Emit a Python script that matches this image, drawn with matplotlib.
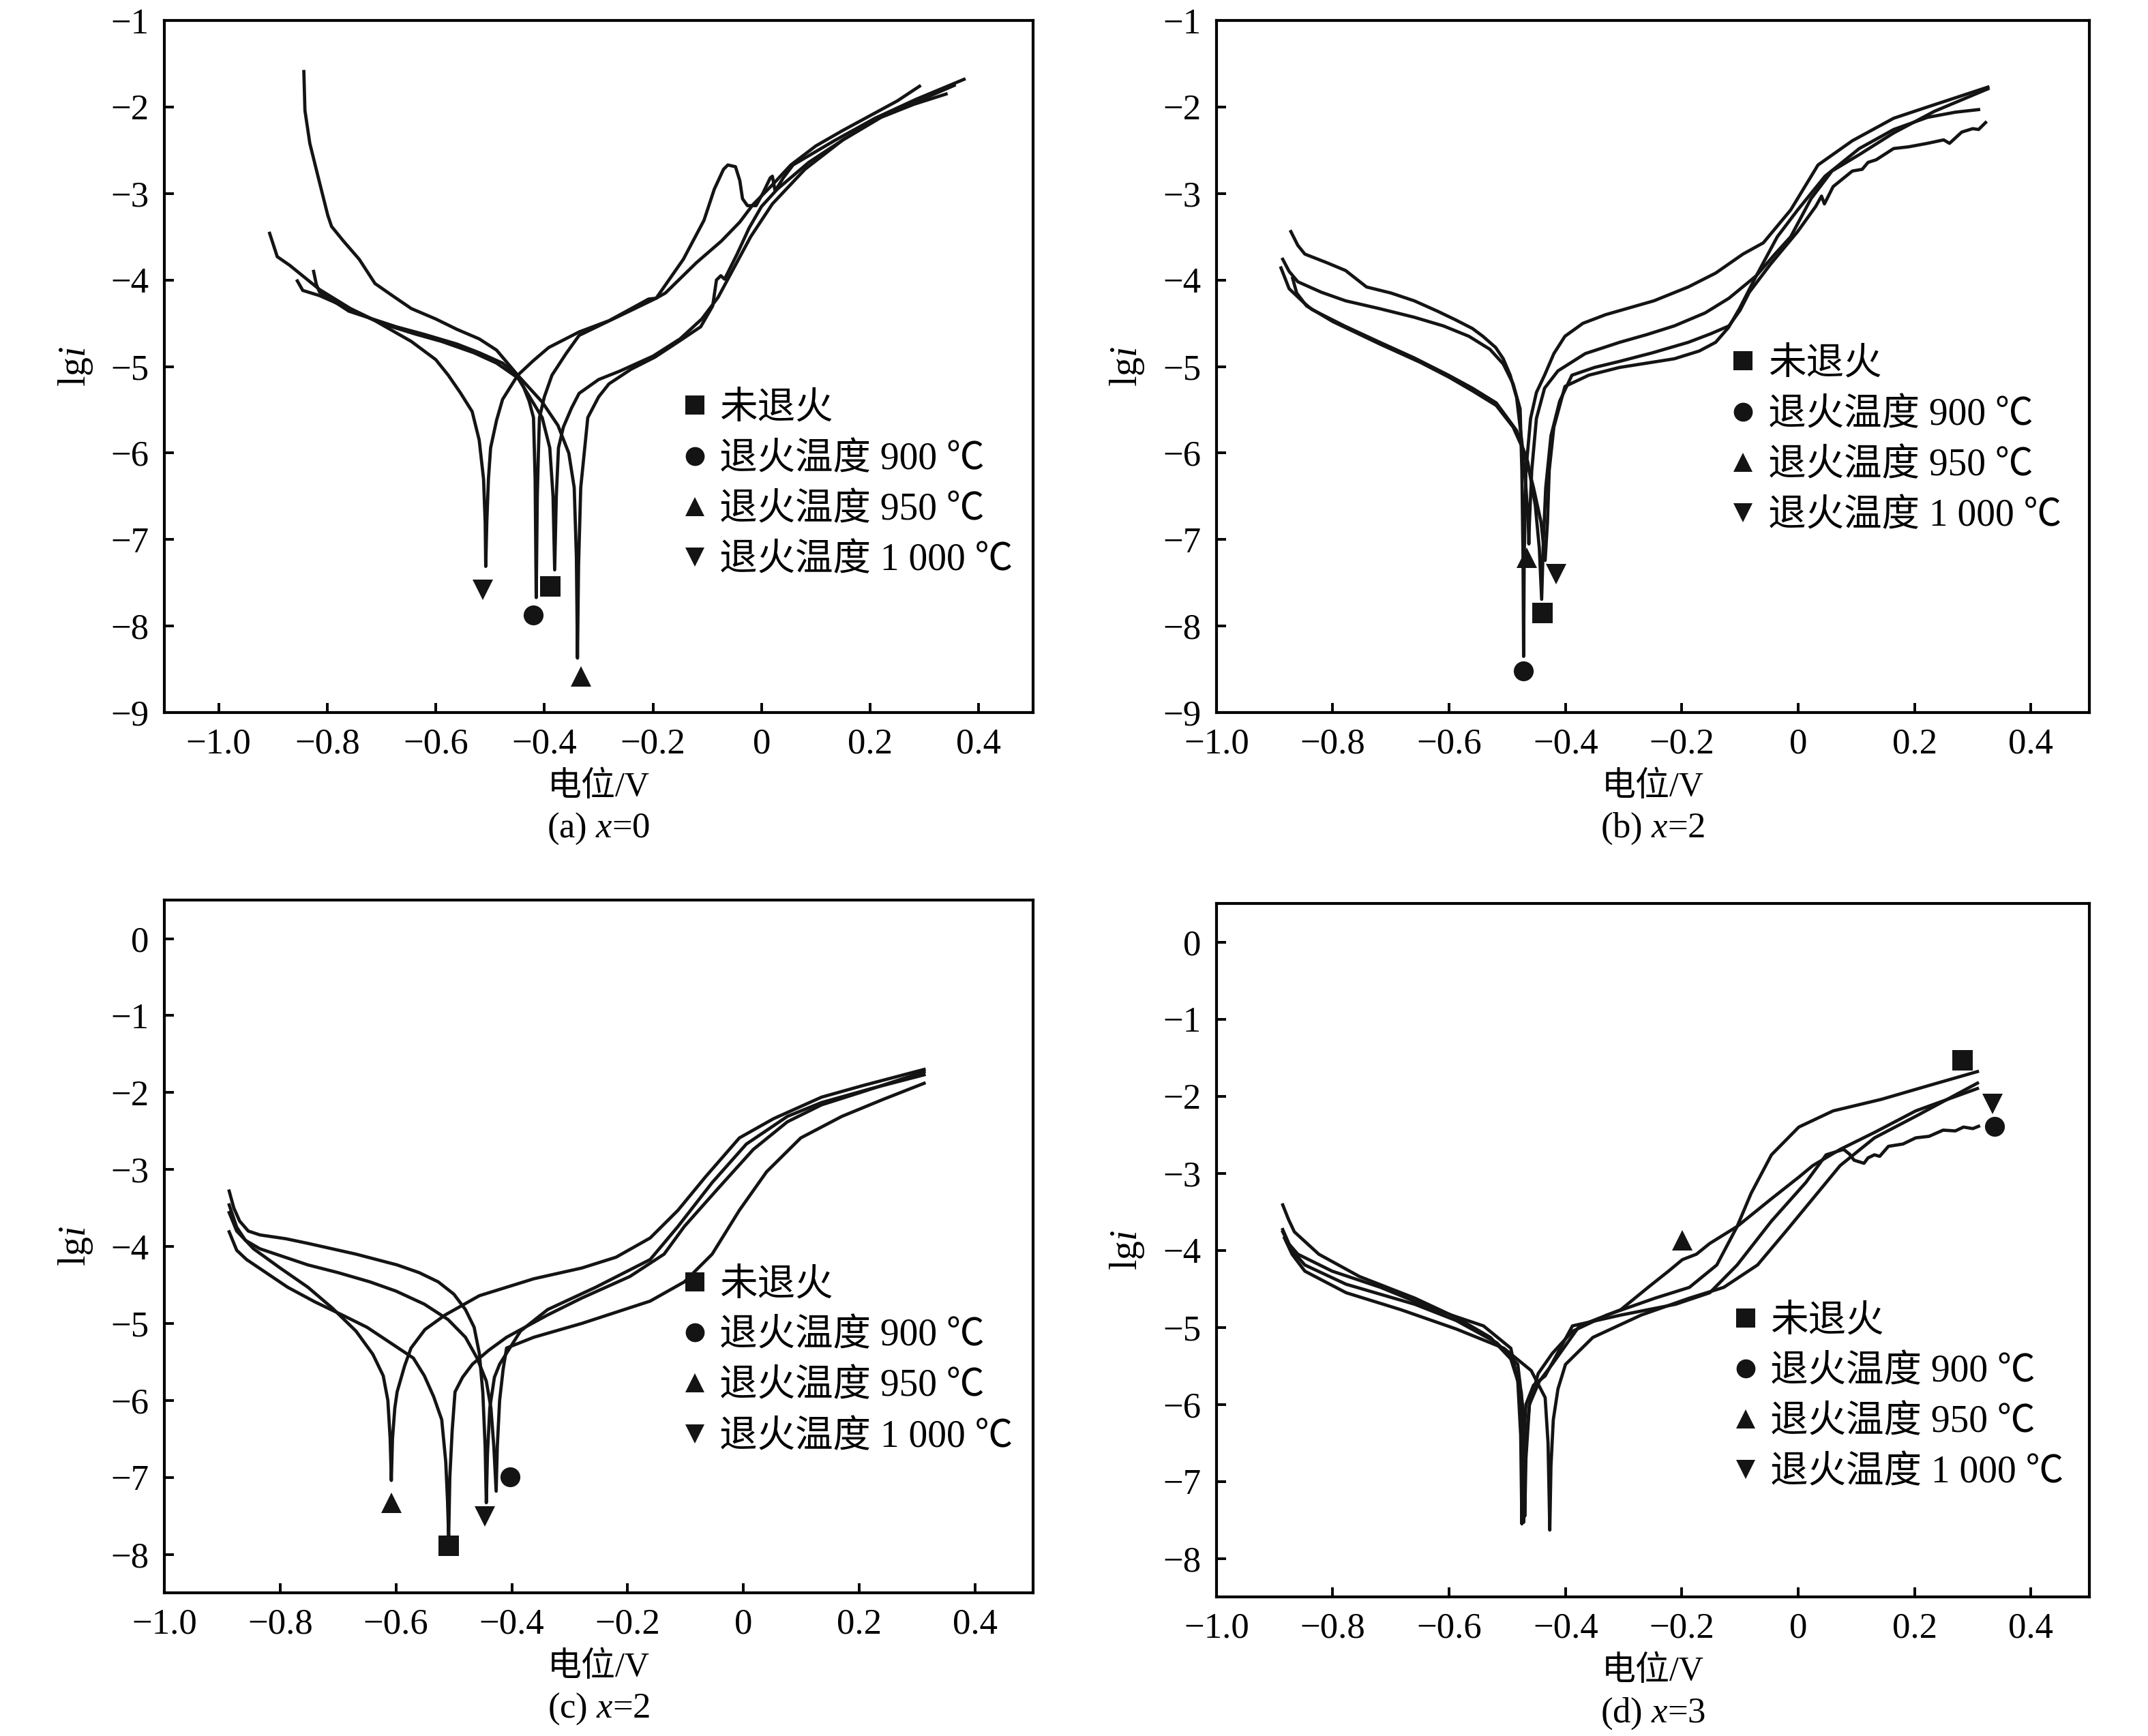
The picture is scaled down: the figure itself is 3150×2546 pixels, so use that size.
import matplotlib
matplotlib.use('Agg')
import matplotlib.pyplot as plt
from matplotlib.lines import Line2D

plt.rcParams['font.family'] = ['Liberation Serif', 'Noto Sans CJK SC']
plt.rcParams['mathtext.fontset'] = 'custom'
plt.rcParams['mathtext.rm'] = 'Liberation Serif'
plt.rcParams['mathtext.it'] = 'Liberation Serif:italic'
plt.rcParams['axes.unicode_minus'] = True

# series order everywhere: 未退火, 900, 950, 1000
series_labels = ['未退火', '退火温度 900 ℃', '退火温度 950 ℃', '退火温度 1 000 ℃']
series_markers = ['s', 'o', '^', 'v']

x_ticks = [-1.0, -0.8, -0.6, -0.4, -0.2, 0.0, 0.2, 0.4]
x_tick_labels = ['−1.0', '−0.8', '−0.6', '−0.4', '−0.2', '0', '0.2', '0.4']
y_ticks_top = [-1, -2, -3, -4, -5, -6, -7, -8, -9]
y_ticks_bottom = [0, -1, -2, -3, -4, -5, -6, -7, -8]
captions = ['(a) $x$=0', '(b) $x$=2', '(c) $x$=2', '(d) $x$=3']

# ---------------- (a) x=0 ----------------
a_none_v = [-0.906, -0.892, -0.869, -0.814, -0.757, -0.701, -0.640, -0.589, -0.530, -0.488, -0.449, -0.431, -0.404,
            -0.390, -0.384, -0.381, -0.378, -0.374, -0.365, -0.350, -0.336, -0.300, -0.260, -0.200, -0.150, -0.110,
            -0.080, -0.050, -0.020, 0.020, 0.080, 0.150, 0.230, 0.300, 0.355]
a_none_lg = [-3.46, -3.73, -3.83, -4.11, -4.33, -4.50, -4.62, -4.71, -4.84, -4.96, -5.13, -5.31, -5.59,
             -5.94, -6.50, -7.35, -6.50, -5.94, -5.70, -5.48, -5.31, -5.15, -5.05, -4.88, -4.68, -4.45,
             -4.20, -3.85, -3.50, -3.12, -2.72, -2.38, -2.08, -1.90, -1.75]
a_900_v = [-0.825, -0.820, -0.814, -0.760, -0.673, -0.620, -0.561, -0.520, -0.477, -0.450, -0.438, -0.428, -0.420,
           -0.417, -0.415, -0.413, -0.411, -0.409, -0.400, -0.386, -0.360, -0.336, -0.290, -0.240, -0.194, -0.177,
           -0.120, -0.074, -0.040, -0.016, 0.020, 0.054, 0.100, 0.150, 0.200, 0.250, 0.291]
a_900_lg = [-3.90, -4.05, -4.14, -4.36, -4.54, -4.63, -4.74, -4.84, -4.96, -5.10, -5.24, -5.40, -5.59,
            -6.30, -7.67, -6.50, -6.00, -5.59, -5.35, -5.10, -4.85, -4.64, -4.50, -4.35, -4.21, -4.15,
            -3.80, -3.55, -3.33, -3.13, -2.90, -2.67, -2.45, -2.27, -2.10, -1.93, -1.76]
a_950_v = [-0.843, -0.841, -0.832, -0.817, -0.799, -0.792, -0.770, -0.741, -0.712, -0.680, -0.645, -0.600, -0.561,
           -0.520, -0.488, -0.449, -0.404, -0.375, -0.355, -0.345, -0.341, -0.339, -0.337, -0.333, -0.320, -0.300,
           -0.281, -0.240, -0.196, -0.150, -0.112, -0.090, -0.083, -0.075, -0.068, -0.045, -0.023, 0.000, 0.029,
           0.087, 0.150, 0.220, 0.280, 0.340]
a_950_lg = [-1.59, -2.04, -2.42, -2.80, -3.25, -3.38, -3.55, -3.76, -4.04, -4.18, -4.33, -4.45, -4.57,
            -4.68, -4.81, -5.10, -5.41, -5.68, -6.00, -6.40, -7.20, -8.37, -7.30, -6.40, -5.59, -5.35,
            -5.20, -5.03, -4.89, -4.70, -4.54, -4.30, -4.00, -3.95, -3.99, -3.70, -3.40, -3.15, -2.95,
            -2.64, -2.38, -2.12, -1.97, -1.85]
a_1000_v = [-0.855, -0.845, -0.814, -0.760, -0.712, -0.645, -0.600, -0.577, -0.555, -0.533, -0.520, -0.512, -0.509,
            -0.508, -0.506, -0.503, -0.499, -0.488, -0.477, -0.449, -0.420, -0.392, -0.336, -0.281, -0.240, -0.208,
            -0.194, -0.144, -0.106, -0.087, -0.070, -0.062, -0.048, -0.040, -0.035, -0.026, -0.010, 0.003, 0.016,
            0.020, 0.025, 0.040, 0.058, 0.134, 0.209, 0.285, 0.373]
a_1000_lg = [-4.01, -4.12, -4.18, -4.33, -4.47, -4.71, -4.92, -5.10, -5.30, -5.52, -5.85, -6.30, -6.80,
             -7.31, -6.80, -6.30, -5.94, -5.62, -5.38, -5.10, -4.93, -4.78, -4.60, -4.47, -4.33, -4.22,
             -4.21, -3.76, -3.31, -2.95, -2.72, -2.67, -2.69, -2.85, -3.06, -3.14, -3.14, -2.99, -2.82,
             -2.80, -2.97, -2.82, -2.67, -2.39, -2.13, -1.91, -1.68]
a_mark_v = [-0.389, -0.421, -0.333, -0.513]
a_mark_lg = [-7.54, -7.87, -8.58, -7.58]

# ---------------- (b) x=2 ----------------
b_none_v = [-0.889, -0.875, -0.850, -0.836, -0.780, -0.719, -0.660, -0.601, -0.560, -0.519, -0.484, -0.465, -0.452,
            -0.445, -0.441, -0.438, -0.434, -0.425, -0.410, -0.389, -0.350, -0.307, -0.250, -0.189, -0.150, -0.119,
            -0.100, -0.084, -0.048, -0.001, 0.030, 0.040, 0.045, 0.060, 0.093, 0.110, 0.120, 0.134, 0.164, 0.190,
            0.222, 0.250, 0.260, 0.281, 0.300, 0.310, 0.322]
b_none_lg = [-3.86, -4.10, -4.26, -4.34, -4.53, -4.72, -4.90, -5.10, -5.25, -5.42, -5.74, -6.10, -6.60,
             -7.10, -7.69, -7.00, -6.40, -5.80, -5.40, -5.10, -5.01, -4.94, -4.84, -4.72, -4.62, -4.53,
             -4.35, -4.14, -3.82, -3.44, -3.15, -3.03, -3.12, -2.92, -2.74, -2.72, -2.64, -2.61, -2.48, -2.46,
             -2.42, -2.38, -2.42, -2.29, -2.25, -2.26, -2.18]
b_900_v = [-0.886, -0.875, -0.860, -0.820, -0.778, -0.720, -0.660, -0.610, -0.566, -0.530, -0.507, -0.490, -0.478,
           -0.475, -0.473, -0.472, -0.471, -0.468, -0.460, -0.450, -0.436, -0.420, -0.401, -0.370, -0.331, -0.248,
           -0.189, -0.142, -0.095, -0.060, -0.013, 0.034, 0.093, 0.164, 0.222, 0.326]
b_900_lg = [-3.76, -3.90, -4.02, -4.14, -4.24, -4.33, -4.43, -4.53, -4.65, -4.80, -4.97, -5.20, -5.49,
            -6.20, -7.20, -8.35, -7.20, -6.20, -5.60, -5.30, -5.10, -4.85, -4.65, -4.50, -4.40, -4.24,
            -4.08, -3.92, -3.70, -3.57, -3.19, -2.67, -2.39, -2.13, -2.00, -1.77]
b_950_v = [-0.872, -0.860, -0.848, -0.810, -0.778, -0.742, -0.700, -0.660, -0.620, -0.589, -0.560, -0.542, -0.520,
           -0.507, -0.495, -0.484, -0.475, -0.468, -0.464, -0.463, -0.462, -0.458, -0.450, -0.436, -0.413, -0.366,
           -0.307, -0.260, -0.213, -0.160, -0.119, -0.072, -0.036, -0.001, 0.046, 0.105, 0.164, 0.222, 0.270, 0.310]
b_950_lg = [-3.44, -3.60, -3.70, -3.80, -3.89, -4.08, -4.15, -4.24, -4.36, -4.46, -4.56, -4.65, -4.78,
            -4.91, -5.10, -5.36, -5.87, -6.40, -6.80, -7.05, -6.80, -6.20, -5.60, -5.25, -5.05, -4.85,
            -4.72, -4.63, -4.53, -4.38, -4.21, -3.95, -3.50, -3.19, -2.80, -2.48, -2.26, -2.12, -2.06, -2.03]
b_1000_v = [-0.869, -0.862, -0.845, -0.800, -0.719, -0.650, -0.601, -0.560, -0.519, -0.490, -0.470, -0.455, -0.442,
            -0.435, -0.431, -0.428, -0.420, -0.401, -0.360, -0.307, -0.260, -0.213, -0.170, -0.142, -0.120, -0.101,
            -0.072, -0.040, -0.013, 0.022, 0.058, 0.105, 0.164, 0.234, 0.280, 0.326]
b_1000_lg = [-3.98, -4.15, -4.30, -4.48, -4.74, -4.95, -5.12, -5.28, -5.45, -5.70, -6.00, -6.40, -6.80,
             -7.24, -6.80, -6.20, -5.70, -5.23, -5.10, -5.01, -4.96, -4.91, -4.82, -4.72, -4.55, -4.33,
             -3.95, -3.70, -3.50, -3.06, -2.74, -2.55, -2.30, -2.05, -1.92, -1.79]
b_mark_v = [-0.440, -0.472, -0.466, -0.416]
b_mark_lg = [-7.85, -8.52, -7.21, -7.40]

# ---------------- (c) x=2 ----------------
c_none_v = [-0.888, -0.875, -0.858, -0.787, -0.740, -0.693, -0.650, -0.610, -0.570, -0.551, -0.535, -0.521, -0.514,
            -0.511, -0.509, -0.507, -0.503, -0.498, -0.485, -0.468, -0.440, -0.409, -0.338, -0.279, -0.196, -0.137,
            -0.102, -0.043, 0.017, 0.076, 0.135, 0.206, 0.312]
c_none_lg = [-3.81, -4.05, -4.17, -4.53, -4.72, -4.89, -5.05, -5.25, -5.45, -5.68, -5.95, -6.25, -6.80,
             -7.30, -7.79, -7.00, -6.40, -5.89, -5.70, -5.53, -5.35, -5.18, -4.89, -4.67, -4.39, -4.10,
             -3.74, -3.24, -2.74, -2.38, -2.16, -1.99, -1.73]
c_900_v = [-0.888, -0.875, -0.860, -0.835, -0.752, -0.700, -0.645, -0.600, -0.551, -0.510, -0.480, -0.460, -0.444,
           -0.436, -0.431, -0.427, -0.425, -0.421, -0.415, -0.409, -0.362, -0.279, -0.161, -0.102, -0.054, -0.007,
           0.040, 0.099, 0.170, 0.241, 0.312]
c_900_lg = [-3.46, -3.75, -3.92, -4.03, -4.24, -4.34, -4.46, -4.58, -4.75, -4.95, -5.18, -5.45, -5.75,
            -6.10, -6.60, -7.18, -6.60, -6.00, -5.60, -5.32, -5.18, -5.00, -4.71, -4.46, -4.10, -3.53,
            -3.03, -2.59, -2.31, -2.09, -1.88]
c_950_v = [-0.888, -0.875, -0.846, -0.800, -0.752, -0.710, -0.669, -0.640, -0.622, -0.614, -0.610, -0.608, -0.606,
           -0.602, -0.598, -0.585, -0.574, -0.550, -0.515, -0.456, -0.362, -0.279, -0.220, -0.161, -0.113, -0.066,
           -0.007, 0.052, 0.135, 0.206, 0.312]
c_950_lg = [-3.56, -3.80, -4.03, -4.28, -4.53, -4.80, -5.10, -5.40, -5.68, -6.00, -6.50, -7.04, -6.50,
            -6.10, -5.89, -5.55, -5.32, -5.08, -4.89, -4.64, -4.42, -4.28, -4.14, -3.89, -3.53, -3.10,
            -2.59, -2.34, -2.06, -1.91, -1.70]
c_1000_v = [-0.888, -0.880, -0.870, -0.855, -0.835, -0.790, -0.752, -0.669, -0.598, -0.560, -0.527, -0.500, -0.480,
            -0.465, -0.456, -0.450, -0.446, -0.444, -0.442, -0.438, -0.430, -0.421, -0.385, -0.338, -0.255, -0.161,
            -0.113, -0.054, 0.005, 0.076, 0.135, 0.220, 0.312]
c_1000_lg = [-3.28, -3.50, -3.67, -3.80, -3.85, -3.90, -3.96, -4.10, -4.24, -4.34, -4.46, -4.62, -4.82,
             -5.05, -5.39, -5.90, -6.60, -7.33, -6.70, -6.10, -5.70, -5.53, -5.10, -4.82, -4.53, -4.17,
             -3.74, -3.17, -2.67, -2.31, -2.13, -1.95, -1.77]
c_mark_v = [-0.509, -0.403, -0.608, -0.447]
c_mark_lg = [-7.89, -6.99, -7.33, -7.51]

# ---------------- (d) x=3 ----------------
d_none_v = [-0.886, -0.876, -0.866, -0.824, -0.754, -0.659, -0.588, -0.529, -0.494, -0.476, -0.473, -0.472, -0.469,
            -0.462, -0.447, -0.423, -0.388, -0.329, -0.246, -0.187, -0.140, -0.105, -0.081, -0.046, 0.001, 0.060,
            0.143, 0.225, 0.308]
d_none_lg = [-3.41, -3.60, -3.76, -4.05, -4.34, -4.62, -4.87, -5.13, -5.41, -5.84, -6.50, -7.53, -6.60,
             -6.00, -5.60, -5.34, -5.05, -4.84, -4.62, -4.48, -4.19, -3.69, -3.26, -2.76, -2.40, -2.19,
             -2.04, -1.86, -1.68]
d_900_v = [-0.886, -0.875, -0.860, -0.801, -0.718, -0.624, -0.541, -0.494, -0.482, -0.477, -0.475, -0.473, -0.468,
           -0.455, -0.435, -0.388, -0.305, -0.211, -0.152, -0.105, -0.046, 0.013, 0.048, 0.078, 0.088, 0.096,
           0.113, 0.120, 0.131, 0.140, 0.155, 0.180, 0.202, 0.225, 0.249, 0.270, 0.284, 0.300, 0.310]
d_900_lg = [-3.73, -3.92, -4.05, -4.27, -4.48, -4.77, -4.98, -5.27, -5.70, -6.40, -7.55, -6.60, -6.00,
            -5.75, -5.63, -4.98, -4.84, -4.70, -4.55, -4.19, -3.62, -3.12, -2.76, -2.69, -2.75, -2.83,
            -2.87, -2.80, -2.76, -2.78, -2.65, -2.62, -2.54, -2.52, -2.44, -2.45, -2.40, -2.42, -2.39]
d_950_v = [-0.886, -0.870, -0.848, -0.777, -0.659, -0.588, -0.518, -0.482, -0.474, -0.471, -0.470, -0.468, -0.462,
           -0.445, -0.423, -0.376, -0.305, -0.258, -0.223, -0.199, -0.175, -0.152, -0.105, -0.046, 0.001, 0.025,
           0.072, 0.131, 0.202, 0.308]
d_950_lg = [-3.76, -4.00, -4.19, -4.44, -4.70, -4.91, -5.20, -5.48, -6.00, -6.80, -7.45, -6.70, -6.00,
            -5.70, -5.48, -4.98, -4.77, -4.48, -4.27, -4.12, -4.05, -3.91, -3.69, -3.33, -3.05, -2.90,
            -2.69, -2.47, -2.19, -1.90]
d_1000_v = [-0.883, -0.870, -0.848, -0.777, -0.683, -0.588, -0.506, -0.459, -0.435, -0.430, -0.427, -0.425, -0.421,
            -0.413, -0.400, -0.353, -0.270, -0.187, -0.128, -0.070, -0.022, 0.025, 0.072, 0.131, 0.202, 0.308]
d_1000_lg = [-3.84, -4.05, -4.27, -4.55, -4.77, -5.02, -5.27, -5.56, -5.91, -6.50, -7.63, -6.80, -6.20,
             -5.80, -5.48, -5.13, -4.84, -4.62, -4.48, -4.19, -3.76, -3.33, -2.90, -2.54, -2.26, -1.83]
d_mark_v = [0.282, 0.337, -0.199, 0.334]
d_mark_lg = [-1.53, -2.39, -3.87, -2.10]

panels = [
    ([(a_none_v, a_none_lg), (a_900_v, a_900_lg), (a_950_v, a_950_lg), (a_1000_v, a_1000_lg)], a_mark_v, a_mark_lg),
    ([(b_none_v, b_none_lg), (b_900_v, b_900_lg), (b_950_v, b_950_lg), (b_1000_v, b_1000_lg)], b_mark_v, b_mark_lg),
    ([(c_none_v, c_none_lg), (c_900_v, c_900_lg), (c_950_v, c_950_lg), (c_1000_v, c_1000_lg)], c_mark_v, c_mark_lg),
    ([(d_none_v, d_none_lg), (d_900_v, d_900_lg), (d_950_v, d_950_lg), (d_1000_v, d_1000_lg)], d_mark_v, d_mark_lg),
]

# layout
axes_rects = [[0.0765, 0.5895, 0.4044, 0.3987],
              [0.5663, 0.5895, 0.4063, 0.3987],
              [0.0765, 0.0825, 0.4044, 0.3990],
              [0.5663, 0.0800, 0.4063, 0.3995]]
x_limits = [(-1.1, 0.5), (-1.0, 0.5), (-1.0, 0.5), (-1.0, 0.5)]
y_limits = [(-9, -1), (-9, -1), (-8.5, 0.5), (-8.5, 0.5)]
legend_anchor = [(0.589, 0.329), (0.582, 0.393), (0.589, 0.334), (0.585, 0.288)]

fig = plt.figure(figsize=(15.75, 12.73), dpi=200)

for k in range(4):
    ax = fig.add_axes(axes_rects[k])
    curves, mv, ml = panels[k]
    for v, lg in curves:
        ax.plot(v, lg, color='#141414', lw=1.7, solid_joinstyle='round')
    for j in range(4):
        ax.plot(mv[j], ml[j], series_markers[j], color='#141414', ms=10.5, mew=0)

    ax.set_xlim(*x_limits[k])
    ax.set_ylim(*y_limits[k])
    ax.set_xticks(x_ticks)
    ax.set_xticklabels(x_tick_labels)
    yt = y_ticks_top if k < 2 else y_ticks_bottom
    ax.set_yticks(yt)
    ax.set_yticklabels([('−%d' % -t) if t < 0 else '0' for t in yt])
    ax.tick_params(direction='in', length=5, width=1.4, labelsize=19, pad=8, top=False, right=False)
    for s in ax.spines.values():
        s.set_linewidth(1.5)

    ax.set_ylabel('lg$i$', fontsize=20)
    ax.yaxis.set_label_coords(-0.08, 0.5)
    ax.set_xlabel('电位/V', fontsize=18)
    ax.xaxis.set_label_coords(0.5, -0.085)
    ax.text(0.5, -0.168, captions[k], transform=ax.transAxes, ha='center', va='center', fontsize=19)

    handles = [Line2D([], [], ls='none', marker=series_markers[j], color='#141414', ms=10, mew=0)
               for j in range(4)]
    ax.legend(handles, series_labels, loc='center left', bbox_to_anchor=legend_anchor[k], frameon=False,
              fontsize=20, handlelength=1.0, handletextpad=0.15, labelspacing=0.4, borderpad=0,
              borderaxespad=0)

fig.savefig('out.png', dpi=200)
